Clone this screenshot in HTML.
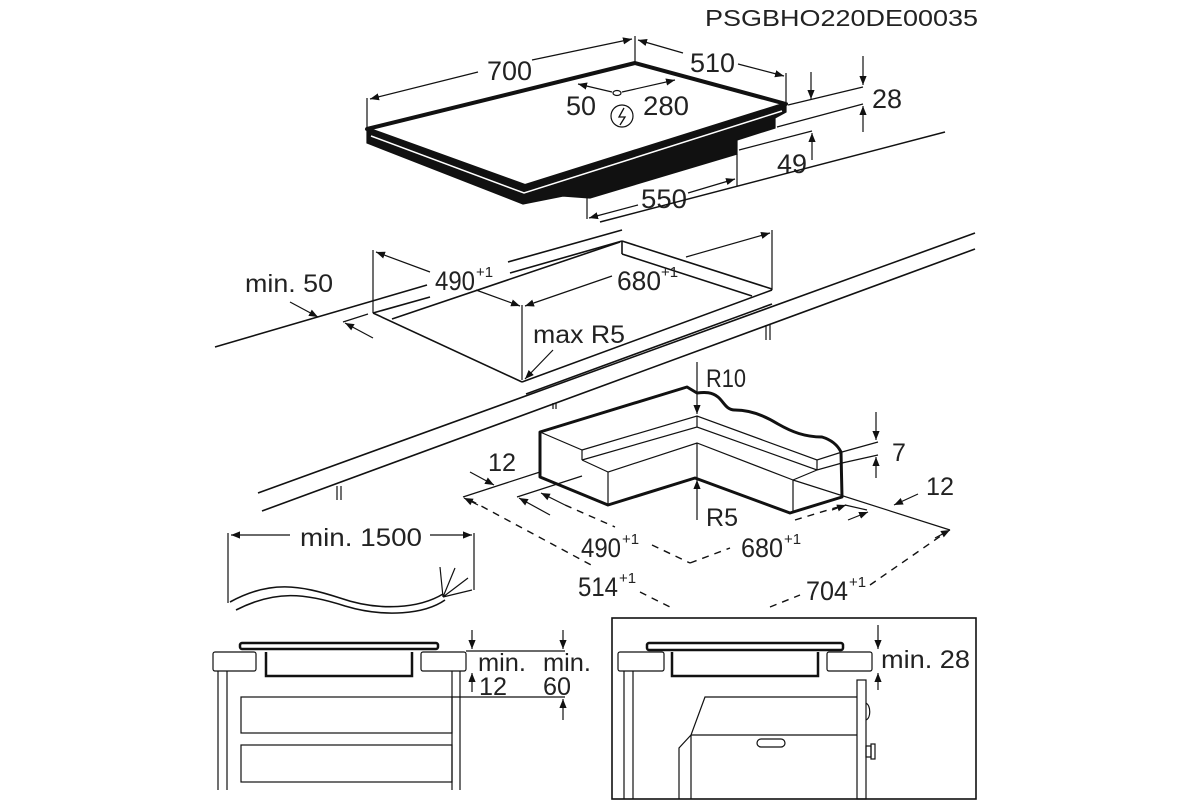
<!DOCTYPE html>
<html><head><meta charset="utf-8"><style>
html,body{margin:0;padding:0;background:#fff;}
svg{display:block;}
text{font-family:"Liberation Sans",Arial,sans-serif;fill:#222;}
</style></head><body>
<svg width="1200" height="800" viewBox="0 0 1200 800" xmlns="http://www.w3.org/2000/svg">
<defs>
<marker id="a" viewBox="0 0 10 10" refX="10" refY="5" markerWidth="9" markerHeight="9" orient="auto-start-reverse" markerUnits="userSpaceOnUse"><path d="M0,1 L10,5 L0,9 z" fill="#111"/></marker>
</defs>
<g stroke="#111" fill="none" stroke-width="1.2">
<text x="705" y="26" font-size="23" textLength="273" lengthAdjust="spacingAndGlyphs" stroke="none">PSGBHO220DE00035</text>

<!-- HOB -->
<path d="M367,129 L367,143 L523,204 L563,196 L590,198 L737,154 L737,140 L775,128 L775,118 L786,112 L786,104 Z" fill="#111"/>
<path d="M367,129 L635,63 L786,104 L525,186 Z" fill="#fff" stroke="#111" stroke-width="4" stroke-linejoin="round"/>
<path d="M371,136 L524,193 L782,111" stroke="#fff" stroke-width="1.5"/>
<line x1="367" y1="98" x2="367" y2="127"/>
<line x1="635" y1="36" x2="635" y2="63"/>
<line x1="786" y1="73" x2="786" y2="102"/>
<line x1="370" y1="99" x2="478" y2="72" marker-start="url(#a)"/>
<line x1="532" y1="60" x2="632" y2="39" marker-end="url(#a)"/>
<text x="487" y="80" font-size="27" textLength="45" lengthAdjust="spacingAndGlyphs" stroke="none">700</text>
<line x1="638" y1="40" x2="683" y2="53" marker-start="url(#a)"/>
<line x1="738" y1="64" x2="784" y2="76" marker-end="url(#a)"/>
<text x="690" y="72" font-size="27" textLength="45" lengthAdjust="spacingAndGlyphs" stroke="none">510</text>
<line x1="578" y1="84" x2="612" y2="92" marker-start="url(#a)"/>
<line x1="622" y1="92" x2="675" y2="80" marker-end="url(#a)"/>
<ellipse cx="617" cy="93" rx="4" ry="2.5"/>
<circle cx="622" cy="116" r="11"/>
<path d="M624,108 L619,117 L625,117 L620,125" stroke-width="1.3"/>
<text x="566" y="115" font-size="27" textLength="30" lengthAdjust="spacingAndGlyphs" stroke="none">50</text>
<text x="643" y="115" font-size="27" textLength="46" lengthAdjust="spacingAndGlyphs" stroke="none">280</text>
<line x1="788" y1="105" x2="863" y2="87"/>
<line x1="777" y1="127" x2="863" y2="104"/>
<line x1="811" y1="72" x2="811" y2="99" marker-end="url(#a)"/>
<line x1="863" y1="56" x2="863" y2="85" marker-end="url(#a)"/>
<line x1="863" y1="132" x2="863" y2="106" marker-end="url(#a)"/>
<text x="872" y="108" font-size="27" textLength="30" lengthAdjust="spacingAndGlyphs" stroke="none">28</text>
<line x1="739" y1="150" x2="812" y2="131"/>
<line x1="812" y1="160" x2="812" y2="133" marker-end="url(#a)"/>
<text x="777" y="173" font-size="27" textLength="30" lengthAdjust="spacingAndGlyphs" stroke="none">49</text>
<line x1="587" y1="198" x2="587" y2="219"/>
<line x1="737" y1="154" x2="737" y2="186"/>
<line x1="589" y1="218" x2="638" y2="205" marker-start="url(#a)"/>
<line x1="688" y1="193" x2="735" y2="179" marker-end="url(#a)"/>
<text x="641" y="208" font-size="27" textLength="46" lengthAdjust="spacingAndGlyphs" stroke="none">550</text>
<line x1="600" y1="222" x2="945" y2="132" stroke-width="1.5"/>

<!-- CUTOUT -->
<line x1="215" y1="347" x2="427" y2="285" stroke-width="1.6"/>
<line x1="373" y1="313" x2="430" y2="297" stroke-width="1.6"/>
<line x1="392" y1="319" x2="620" y2="242" stroke-width="1.6"/>
<line x1="508" y1="262" x2="622" y2="230" stroke-width="1.6"/>
<line x1="510" y1="273" x2="622" y2="241" stroke-width="1.6"/>
<line x1="622" y1="241" x2="772" y2="289" stroke-width="1.6"/>
<line x1="622" y1="241" x2="622" y2="254" stroke-width="1.6"/>
<line x1="622" y1="254" x2="752" y2="296" stroke-width="1.6"/>
<line x1="373" y1="313" x2="522" y2="382" stroke-width="1.6"/>
<line x1="522" y1="382" x2="772" y2="290" stroke-width="1.6"/>
<line x1="373" y1="250" x2="373" y2="313"/>
<line x1="772" y1="230" x2="772" y2="290"/>
<line x1="522" y1="305" x2="522" y2="380"/>
<line x1="376" y1="252" x2="430" y2="272" marker-start="url(#a)"/>
<line x1="476" y1="290" x2="520" y2="306" marker-end="url(#a)"/>
<text x="435" y="290" font-size="27" textLength="40" lengthAdjust="spacingAndGlyphs" stroke="none">490</text>
<text x="476" y="277" font-size="15" stroke="none">+1</text>
<line x1="525" y1="306" x2="612" y2="276" marker-start="url(#a)"/>
<line x1="686" y1="257" x2="770" y2="233" marker-end="url(#a)"/>
<text x="617" y="290" font-size="27" textLength="44" lengthAdjust="spacingAndGlyphs" stroke="none">680</text>
<text x="661" y="277" font-size="15" stroke="none">+1</text>
<text x="245" y="292" font-size="25" textLength="88" lengthAdjust="spacingAndGlyphs" stroke="none">min. 50</text>
<line x1="290" y1="302" x2="318" y2="317" marker-end="url(#a)"/>
<line x1="373" y1="338" x2="345" y2="323" marker-end="url(#a)"/>
<line x1="343" y1="322" x2="368" y2="314"/>
<text x="533" y="343" font-size="25" textLength="92" lengthAdjust="spacingAndGlyphs" stroke="none">max R5</text>
<line x1="553" y1="350" x2="525" y2="379" marker-end="url(#a)"/>
<line x1="258" y1="493" x2="975" y2="233" stroke-width="1.6"/>
<line x1="262" y1="511" x2="975" y2="249" stroke-width="1.6"/>
<line x1="526" y1="394" x2="772" y2="304" stroke-width="1.6"/>
<line x1="766" y1="325" x2="766" y2="340"/><line x1="770" y1="325" x2="770" y2="340"/>
<line x1="337" y1="486" x2="337" y2="500"/><line x1="341" y1="486" x2="341" y2="500"/>
<line x1="553" y1="403" x2="553" y2="409"/><line x1="556" y1="403" x2="556" y2="409"/>

<!-- CORNER BLOCK -->
<path d="M540,432 L687,387 L697,393 C705,392 712,392 718,397 C724,402 726,410 735,410 C748,410 762,414 778,424 C792,432 805,437 822,437 C832,440 838,446 841,452 L842,497 L790,513 L695,478 L608,505 L540,477 Z" fill="#fff" stroke-width="3" stroke-linejoin="round"/>
<path d="M540,432 L582,450 L582,460 M582,450 L697,416 L817,460 L842,452 M582,460 L697,427 L817,470 L842,463 M817,460 L817,470 M608,505 L608,472 L697,443 L793,480 L793,513 M697,443 L697,478 M697,416 L697,427 M582,460 L608,472 M793,480 L817,470"/>
<line x1="697" y1="362" x2="697" y2="414" marker-end="url(#a)"/>
<line x1="697" y1="520" x2="697" y2="480" marker-end="url(#a)"/>
<text x="706" y="387" font-size="25" textLength="40" lengthAdjust="spacingAndGlyphs" stroke="none">R10</text>
<text x="706" y="526" font-size="25" textLength="32" lengthAdjust="spacingAndGlyphs" stroke="none">R5</text>
<line x1="842" y1="452" x2="878" y2="442"/>
<line x1="842" y1="463" x2="878" y2="455"/>
<line x1="876" y1="412" x2="876" y2="440" marker-end="url(#a)"/>
<line x1="876" y1="478" x2="876" y2="457" marker-end="url(#a)"/>
<text x="892" y="461" font-size="25" stroke="none">7</text>
<line x1="793" y1="480" x2="950" y2="530"/>
<line x1="463" y1="497" x2="540" y2="472"/>
<line x1="517" y1="497" x2="582" y2="476"/>
<line x1="845" y1="505" x2="867" y2="510"/>
<text x="488" y="471" font-size="25" textLength="28" lengthAdjust="spacingAndGlyphs" stroke="none">12</text>
<line x1="470" y1="472" x2="494" y2="485" marker-end="url(#a)"/>
<text x="926" y="495" font-size="25" textLength="28" lengthAdjust="spacingAndGlyphs" stroke="none">12</text>
<line x1="918" y1="494" x2="894" y2="505" marker-end="url(#a)"/>
<g stroke-dasharray="7,6" stroke-width="1.4">
<line x1="470" y1="500" x2="593" y2="566"/>
<line x1="640" y1="592" x2="672" y2="608"/>
<line x1="770" y1="607" x2="800" y2="595"/>
<line x1="870" y1="585" x2="945" y2="533"/>
<line x1="565" y1="505" x2="615" y2="527"/>
<line x1="652" y1="545" x2="690" y2="563"/>
<line x1="690" y1="563" x2="730" y2="548"/>
<line x1="795" y1="520" x2="838" y2="507"/>
</g>
<line x1="478" y1="505" x2="464" y2="498" marker-end="url(#a)"/>
<line x1="550" y1="515" x2="519" y2="498" marker-end="url(#a)"/>
<line x1="565" y1="505" x2="541" y2="493" marker-end="url(#a)"/>
<line x1="832" y1="510" x2="846" y2="505" marker-end="url(#a)"/>
<line x1="848" y1="520" x2="868" y2="512" marker-end="url(#a)"/>
<line x1="935" y1="538" x2="950" y2="530" marker-end="url(#a)"/>
<text x="581" y="557" font-size="27" textLength="40" lengthAdjust="spacingAndGlyphs" stroke="none">490</text>
<text x="622" y="544" font-size="15" stroke="none">+1</text>
<text x="741" y="557" font-size="27" textLength="42" lengthAdjust="spacingAndGlyphs" stroke="none">680</text>
<text x="784" y="544" font-size="15" stroke="none">+1</text>
<text x="578" y="596" font-size="27" textLength="40" lengthAdjust="spacingAndGlyphs" stroke="none">514</text>
<text x="619" y="583" font-size="15" stroke="none">+1</text>
<text x="806" y="600" font-size="27" textLength="42" lengthAdjust="spacingAndGlyphs" stroke="none">704</text>
<text x="849" y="587" font-size="15" stroke="none">+1</text>

<!-- CABLE -->
<line x1="228" y1="533" x2="228" y2="603"/>
<line x1="474" y1="533" x2="474" y2="590"/>
<line x1="290" y1="535" x2="231" y2="535" marker-end="url(#a)"/>
<line x1="430" y1="535" x2="472" y2="535" marker-end="url(#a)"/>
<text x="300" y="546" font-size="25" textLength="122" lengthAdjust="spacingAndGlyphs" stroke="none">min. 1500</text>
<path d="M230,602 C270,580 300,585 340,598 C380,612 420,608 443,594" stroke-width="1.6"/>
<path d="M236,610 C275,590 305,593 345,606 C385,618 425,614 445,600" stroke-width="1.6"/>
<path d="M443,597 L440,567 M443,597 L455,568 M443,597 L468,578 M443,597 L472,590"/>

<!-- BOTTOM LEFT -->
<rect x="240" y="643" width="198" height="6" rx="2" fill="#fff" stroke-width="2.5"/>
<rect x="213" y="652" width="43" height="19" rx="2"/>
<rect x="421" y="652" width="45" height="19" rx="2"/>
<path d="M266,652 L266,676 L412,676 L412,652" stroke-width="2.5"/>
<line x1="218" y1="671" x2="218" y2="790"/><line x1="227" y1="671" x2="227" y2="790"/>
<line x1="452" y1="671" x2="452" y2="790"/><line x1="460" y1="671" x2="460" y2="790"/>
<rect x="241" y="697" width="211" height="36"/>
<rect x="241" y="745" width="211" height="37"/>
<line x1="466" y1="651" x2="565" y2="651"/>
<line x1="452" y1="697" x2="565" y2="697"/>
<line x1="472" y1="630" x2="472" y2="649" marker-end="url(#a)"/>
<line x1="472" y1="692" x2="472" y2="673" marker-end="url(#a)"/>
<line x1="563" y1="630" x2="563" y2="649" marker-end="url(#a)"/>
<line x1="563" y1="720" x2="563" y2="699" marker-end="url(#a)"/>
<text x="478" y="671" font-size="25" textLength="48" lengthAdjust="spacingAndGlyphs" stroke="none">min.</text>
<text x="479" y="695" font-size="25" textLength="28" lengthAdjust="spacingAndGlyphs" stroke="none">12</text>
<text x="543" y="671" font-size="25" textLength="48" lengthAdjust="spacingAndGlyphs" stroke="none">min.</text>
<text x="543" y="695" font-size="25" textLength="28" lengthAdjust="spacingAndGlyphs" stroke="none">60</text>

<!-- BOTTOM RIGHT -->
<rect x="612" y="618" width="364" height="181" stroke-width="1.6"/>
<rect x="647" y="643" width="196" height="7" rx="2" fill="#fff" stroke-width="2.5"/>
<rect x="618" y="652" width="46" height="19" rx="2"/>
<rect x="827" y="652" width="45" height="19" rx="2"/>
<path d="M672,652 L672,676 L818,676 L818,652" stroke-width="2.5"/>
<line x1="624" y1="671" x2="624" y2="799"/><line x1="633" y1="671" x2="633" y2="799"/>
<rect x="857" y="680" width="9" height="119"/>
<path d="M857,697 L705,697 L691,735 L857,735 M691,735 L691,799 M691,735 L679,748 L679,799"/>
<rect x="757" y="739" width="28" height="8" rx="4"/>
<path d="M866,703 C871,706 871,718 866,720"/>
<rect x="866" y="746" width="5" height="11"/><rect x="871" y="744" width="4" height="15"/>
<line x1="878" y1="625" x2="878" y2="649" marker-end="url(#a)"/>
<line x1="878" y1="690" x2="878" y2="673" marker-end="url(#a)"/>
<text x="881" y="668" font-size="25" textLength="89" lengthAdjust="spacingAndGlyphs" stroke="none">min. 28</text>
</g>
</svg>
</body></html>
